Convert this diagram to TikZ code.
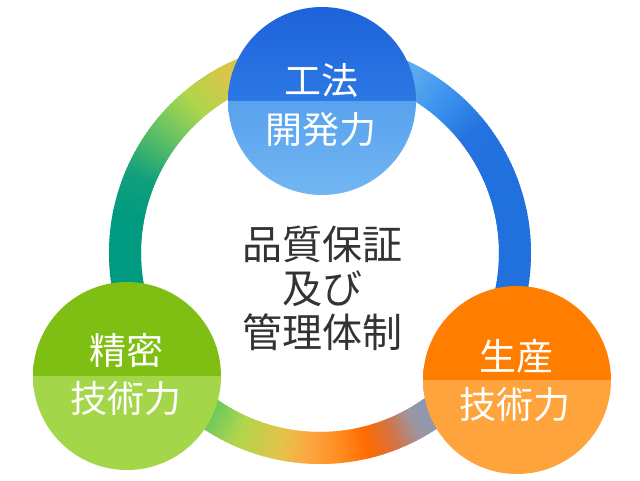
\documentclass[tikz,border=0pt]{standalone}
\usepackage{fontspec}
\setmainfont{Noto Sans CJK JP}
\usetikzlibrary{positioning}
\usepackage{xcolor}

% ring colours
\definecolor{l0}{HTML}{D8C64A}
\definecolor{l1}{HTML}{B0D64C}
\definecolor{l2}{HTML}{62C264}
\definecolor{l3}{HTML}{12A07C}
\definecolor{l4}{HTML}{009A80}
\definecolor{r0}{HTML}{5AAAEE}
\definecolor{r1}{HTML}{3A90EE}
\definecolor{r2}{HTML}{2572DF}
\definecolor{r3}{HTML}{2070DE}
\definecolor{b0}{HTML}{6CC85C}
\definecolor{b1}{HTML}{B0D64C}
\definecolor{b2}{HTML}{E6C24A}
\definecolor{b3}{HTML}{FCA640}
\definecolor{b4}{HTML}{FF8C1E}
\definecolor{b5}{HTML}{FF6A00}
\definecolor{b6}{HTML}{D27448}
\definecolor{b7}{HTML}{9C96A4}
\definecolor{b8}{HTML}{7A9CC4}
% circle colours
\definecolor{blueA}{HTML}{1E62DA}
\definecolor{blueB}{HTML}{3A8EF0}
\definecolor{blueC}{HTML}{58A2EE}
\definecolor{blueD}{HTML}{72B6F2}
\definecolor{greenA}{HTML}{7FBE12}
\definecolor{greenB}{HTML}{A4D64A}
\definecolor{orangeA}{HTML}{FF7E00}
\definecolor{orangeB}{HTML}{FFA33C}
\definecolor{coretext}{HTML}{333333}

\tikzset{
  unit/.style n args={4}{circle, minimum size=188pt, inner sep=0pt,
    path picture={
      \shade[top color=#1, bottom color=#2] (path picture bounding box.north west) rectangle (path picture bounding box.east);
      \shade[top color=#3, bottom color=#4] (path picture bounding box.west) rectangle (path picture bounding box.south east);
    }},
  ringseg/.style={line width=32pt, line cap=butt},
  caption/.style={text=white, font=\fontsize{37}{37}\selectfont, inner sep=0pt},
  core/.style={text=coretext, align=center, font=\fontsize{40}{44}\selectfont, inner sep=0pt}
}

\begin{document}
\begin{tikzpicture}[x=1pt, y=-1pt]
        \fill[white] (0,0) rectangle (640,480);
        \useasboundingbox (0,0) rectangle (640,480);
        \coordinate (ring) at (320,253);

        % Ring
        \foreach \sa/\ea/\ca/\cb in {250/242/l0/l0, 242/230/l0/l1, 230/217/l1/l2, 217/203/l2/l3, 203/190/l3/l4, 190/165/l4/l4,
                                     290/298/r0/r0, 298/310/r0/r1, 310/322/r1/r2, 322/340/r2/r3, 340/380/r3/r3,
                                     130/124/b0/b0, 124/114/b0/b1, 114/101/b1/b2, 101/93/b2/b3, 93/84/b3/b4,
                                     84/76/b4/b5, 76/68/b5/b6, 68/61/b6/b7, 61/50/b7/b8} {
            \pgfmathtruncatemacro\n{abs(\ea-\sa)}
            \foreach \i in {1,...,\n} {
                \pgfmathsetmacro\ta{\sa+(\ea-\sa)*(\i-1)/\n}
                \pgfmathsetmacro\tb{\sa+(\ea-\sa)*(\i+0.6)/\n}
                \pgfmathsetmacro\p{100*(\i-0.5)/\n}
                \draw[ringseg, \cb!\p!\ca] ([shift={(\ta:195)}]ring) arc[start angle=\ta, end angle=\tb, radius=195];
            }
        }

        % Circles
        \node[unit={blueA}{blueB}{blueC}{blueD}] (method) at (322,101) {};
        \node[unit={greenA}{greenA}{greenB}{greenB}] (precision) at (127,376) {};
        \node[unit={orangeA}{orangeA}{orangeB}{orangeB}] (production) at (517,380) {};

        % Texts
        \node[caption] (method1) at (321,80) {工法};
        \node[caption] (method2) at (321,130) {開発力};
        \node[caption] (precision1) at (126,350) {精密};
        \node[caption] (precision2) at (126,399) {技術力};
        \node[caption] (production1) at (516,356) {生産};
        \node[caption] (production2) at (515,405) {技術力};
        \node[core] (quality) at (322,288) {品質保証\\及び\\管理体制};
\end{tikzpicture}
\end{document}
